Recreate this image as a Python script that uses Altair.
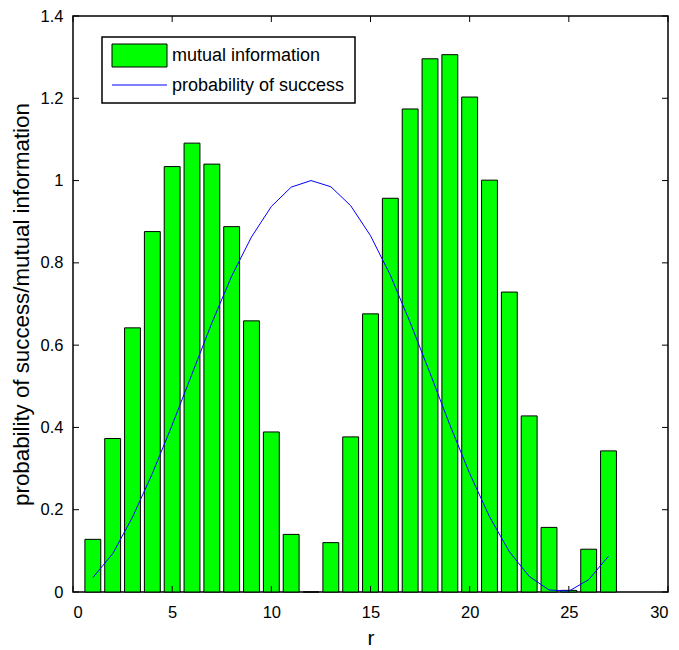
import altair as alt
import pandas as pd

# ---- data ----
r_values = list(range(1, 28))
mutual_info = [0.128, 0.373, 0.642, 0.876, 1.034, 1.091, 1.040, 0.888, 0.659,
               0.389, 0.140, 0.0, 0.120, 0.377, 0.676, 0.957, 1.174, 1.296,
               1.306, 1.203, 1.001, 0.729, 0.428, 0.157, 0.004, 0.104, 0.343]
prob_success = [0.035, 0.093, 0.182, 0.288, 0.406, 0.530, 0.654, 0.768, 0.863,
                0.937, 0.984, 1.000, 0.985, 0.939, 0.866, 0.770, 0.655, 0.532,
                0.406, 0.288, 0.183, 0.098, 0.038, 0.005, 0.002, 0.030, 0.087]
x_ticks = [0, 5, 10, 15, 20, 25, 30]
y_ticks = [0, 0.2, 0.4, 0.6, 0.8, 1.0, 1.2, 1.4]
legend_labels = ["mutual information", "probability of success"]

W, H = 595, 576
FONT = "'Liberation Sans', Arial, Helvetica, sans-serif"

df = pd.DataFrame({"r": r_values, "mi": mutual_info, "ps": prob_success})

xscale = alt.Scale(domain=[0, 30], nice=False, zero=False)
yscale = alt.Scale(domain=[0, 1.4], nice=False)

xaxis = alt.Axis(values=x_ticks, ticks=False, domain=False, grid=False,
                 labelFont=FONT, labelFontSize=16.5, labelColor="black",
                 labelPadding=12, title="r", titleFont=FONT, titleFontSize=21,
                 titleFontWeight="normal", titleColor="black",
                 titleX=W / 2, titleY=52, titleAlign="center",
                 titleBaseline="alphabetic")
yaxis = alt.Axis(values=y_ticks, ticks=False, domain=False, grid=False, format="~g",
                 labelFont=FONT, labelFontSize=16.5, labelColor="black",
                 labelPadding=10, title="probability of success/mutual information",
                 titleFont=FONT, titleFontSize=22.3, titleFontWeight="normal",
                 titleColor="black", titleX=-45, titleY=H / 2, titleAngle=270,
                 titleAlign="center", titleBaseline="alphabetic")

bars = alt.Chart(df).transform_calculate(
    x0="datum.r - 0.4", x1="datum.r + 0.4"
).mark_bar(color="#00ff00", stroke="black", strokeWidth=1).encode(
    x=alt.X("x0:Q", scale=xscale, axis=xaxis),
    x2="x1:Q",
    y=alt.Y("mi:Q", scale=yscale, axis=yaxis),
    y2=alt.datum(0),
)

line = alt.Chart(df).mark_line(color="#0000ff", strokeWidth=1).encode(
    x=alt.X("r:Q", scale=xscale),
    y=alt.Y("ps:Q", scale=yscale),
)

xt = pd.DataFrame({"t": x_ticks})
yt = pd.DataFrame({"t": y_ticks})
TL = 6
xt_bottom = alt.Chart(xt).mark_rule(color="black", strokeWidth=1).encode(
    x=alt.X("t:Q", scale=xscale), y=alt.value(H), y2=alt.value(H - TL))
xt_top = alt.Chart(xt).mark_rule(color="black", strokeWidth=1).encode(
    x=alt.X("t:Q", scale=xscale), y=alt.value(0), y2=alt.value(TL))
yt_left = alt.Chart(yt).mark_rule(color="black", strokeWidth=1).encode(
    y=alt.Y("t:Q", scale=yscale), x=alt.value(0), x2=alt.value(TL))
yt_right = alt.Chart(yt).mark_rule(color="black", strokeWidth=1).encode(
    y=alt.Y("t:Q", scale=yscale), x=alt.value(W), x2=alt.value(W - TL))

one = alt.Data(values=[{"a": 1}])
leg_box = alt.Chart(one).mark_rect(fill="white", stroke="black", strokeWidth=1.5).encode(
    x=alt.value(29), x2=alt.value(282), y=alt.value(21), y2=alt.value(87))
leg_swatch = alt.Chart(one).mark_rect(fill="#00ff00", stroke="black", strokeWidth=1).encode(
    x=alt.value(39), x2=alt.value(94), y=alt.value(28), y2=alt.value(51))
leg_line = alt.Chart(one).mark_rule(color="#0000ff", strokeWidth=1).encode(
    x=alt.value(39), x2=alt.value(94), y=alt.value(69))
leg_t1 = alt.Chart(pd.DataFrame({"lab": [legend_labels[0]]})).mark_text(
    align="left", baseline="middle", font=FONT, fontSize=18, color="black").encode(
    x=alt.value(99), y=alt.value(40), text="lab:N")
leg_t2 = alt.Chart(pd.DataFrame({"lab": [legend_labels[1]]})).mark_text(
    align="left", baseline="middle", font=FONT, fontSize=18, color="black").encode(
    x=alt.value(99), y=alt.value(70), text="lab:N")

chart = alt.layer(
    bars, line, xt_bottom, xt_top, yt_left, yt_right,
    leg_box, leg_swatch, leg_line, leg_t1, leg_t2
).properties(
    width=W, height=H,
    autosize=alt.AutoSizeParams(type="none"),
    padding={"left": 73, "top": 16, "right": 11, "bottom": 58},
    background="white",
).configure_view(stroke="black", strokeWidth=1.5)

chart.save("out.html", embed_options={"renderer": "svg", "actions": False})
